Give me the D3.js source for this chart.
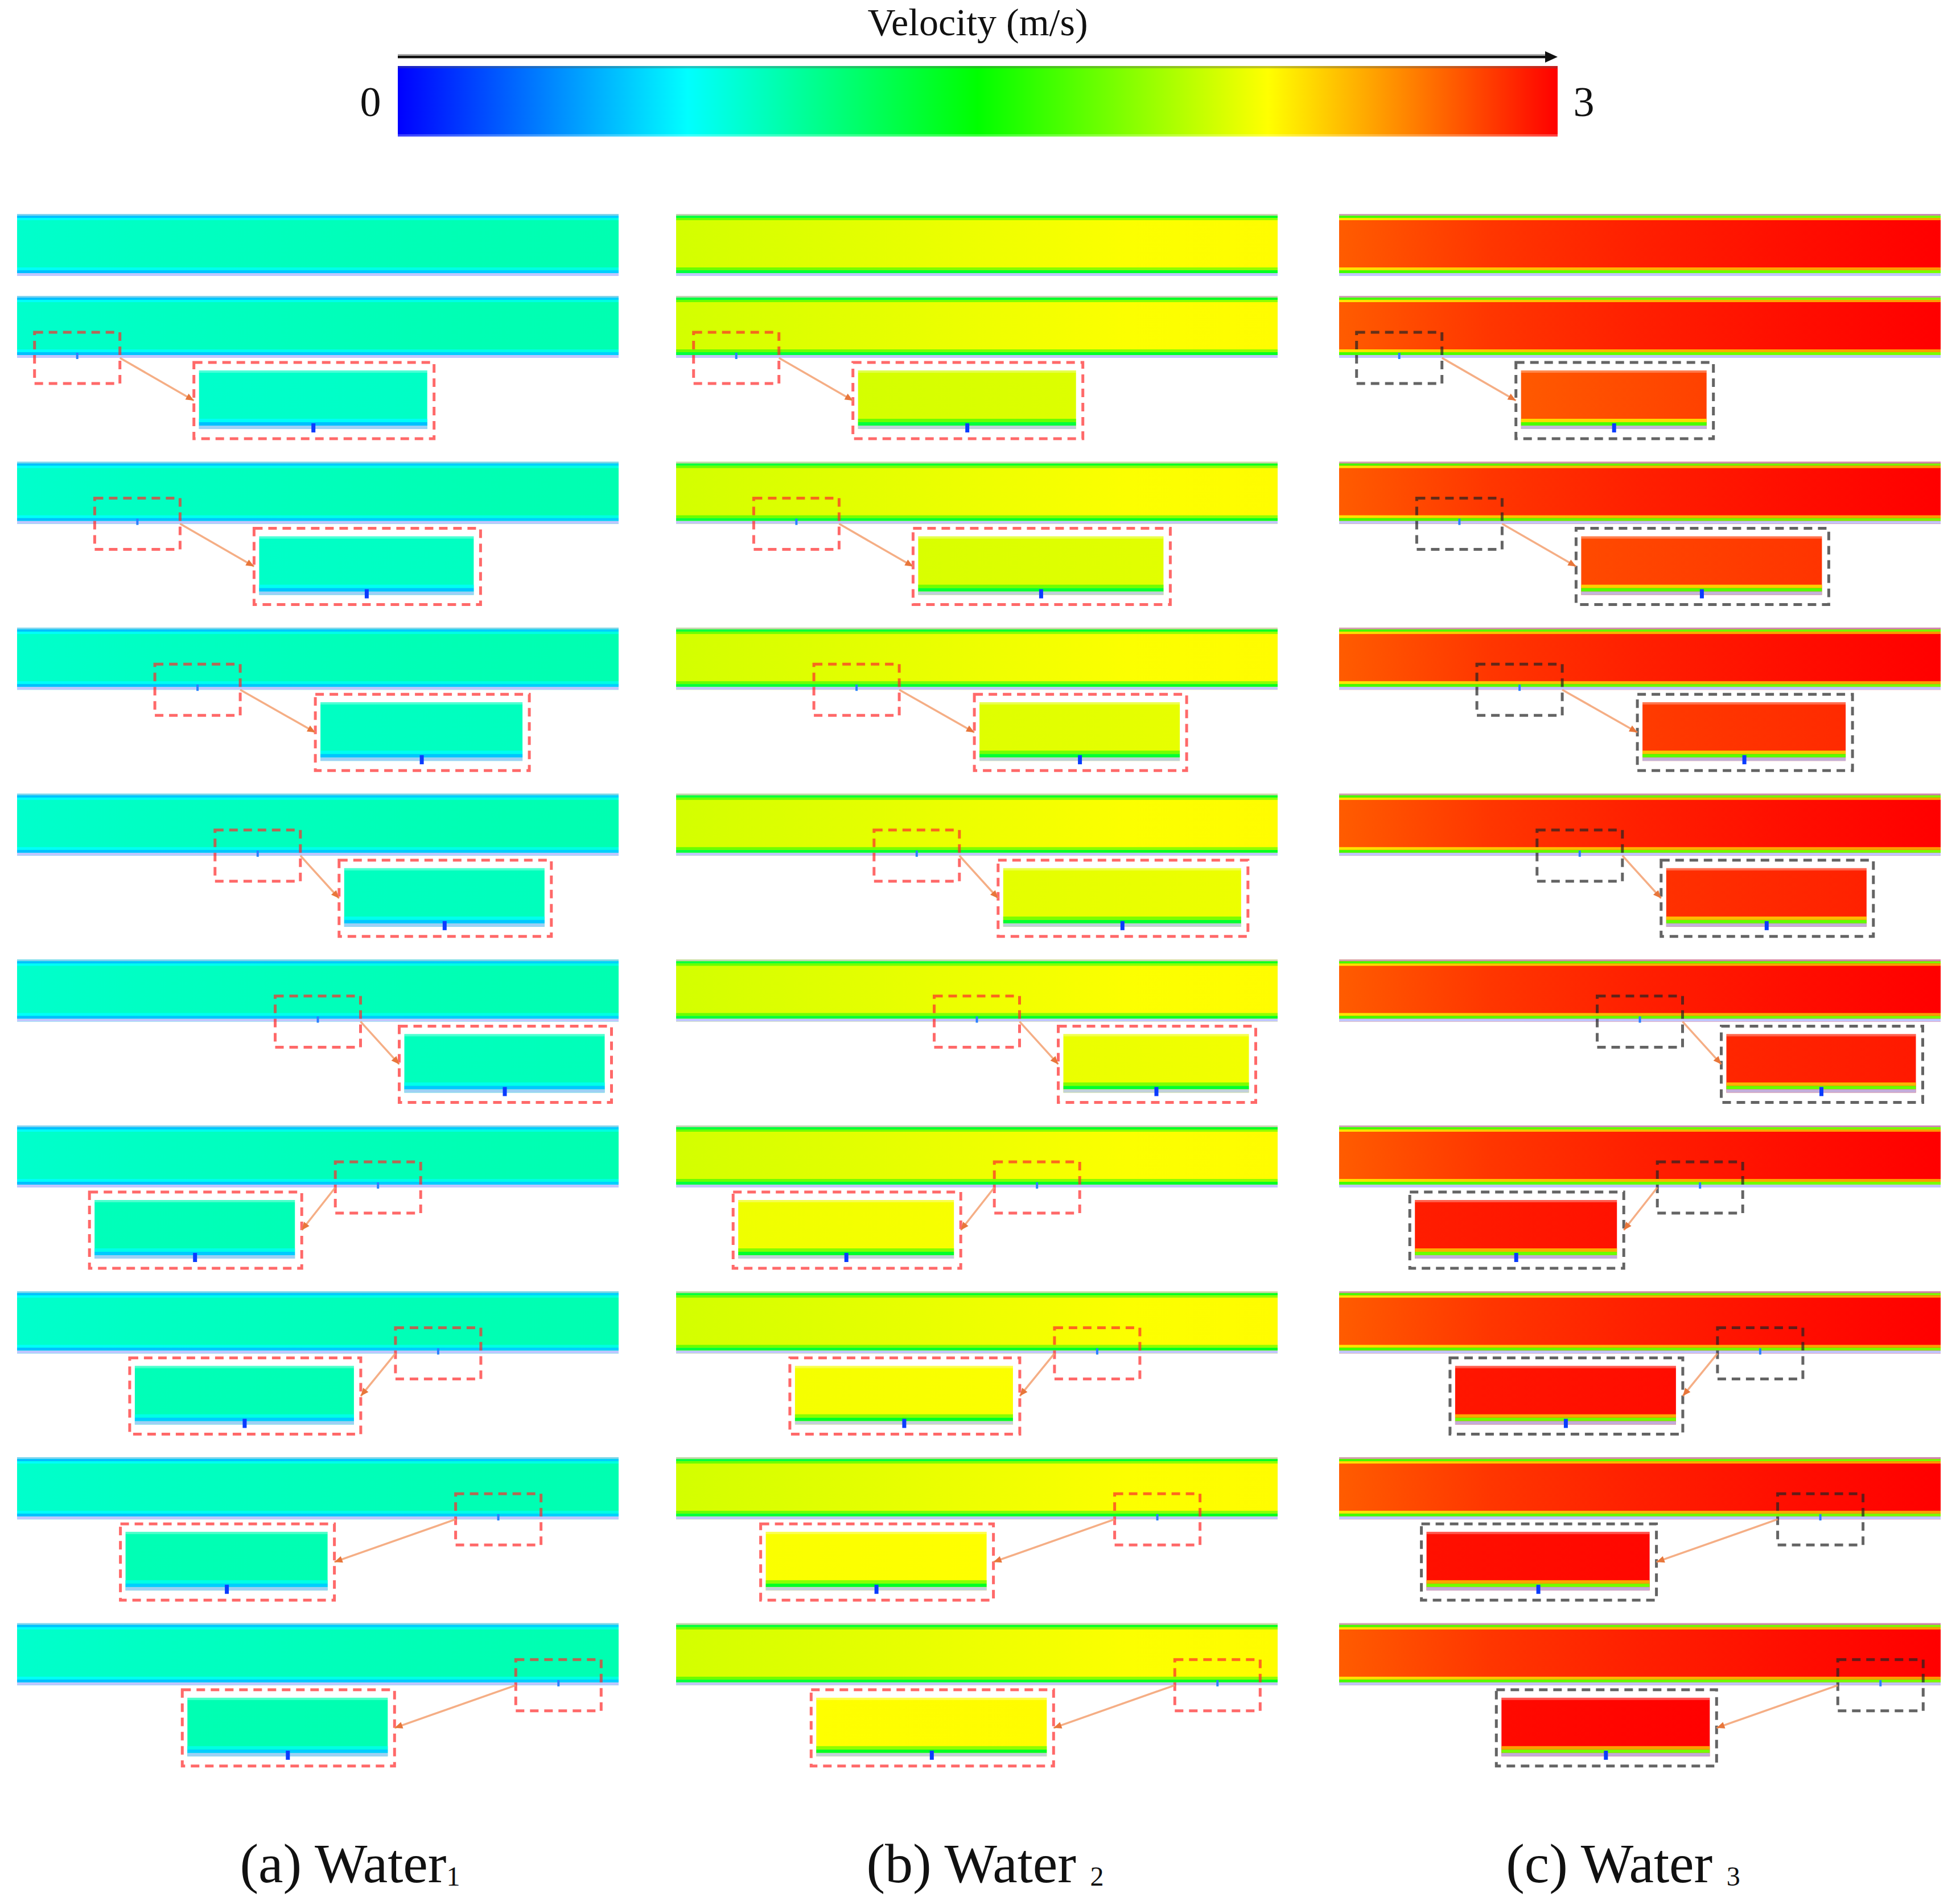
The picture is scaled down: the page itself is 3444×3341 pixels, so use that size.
<!DOCTYPE html>
<html><head><meta charset="utf-8">
<script src="https://cdn.jsdelivr.net/npm/d3@7"></script>
<style>html,body{margin:0;padding:0;background:#fff;}svg{display:block;}</style>
</head><body>
<script>
// ---------- data ----------
const colormapStops = [0, 0.75, 1.5, 2.25, 3];
const colormapColors = ["#0000ff", "#00ffff", "#00ff00", "#ffff00", "#ff0000"];
const colorbarTicks = [0, 3];
const colorbarTitle = "Velocity (m/s)";

const cases = ["Water1", "Water2", "Water3"];
const caseLabels = ["(a) Water", "(b) Water ", "(c) Water "];
const caseSubscripts = ["1", "2", "3"];
// velocity sampled along the pipe length (inlet -> outlet)
const samplePositions = [0, 0.25, 0.5, 0.75, 1];
const velocityWater1 = [0.90, 0.93, 0.95, 0.97, 0.98];
const velocityWater2 = [2.12, 2.16, 2.20, 2.24, 2.26];
const velocityWater3 = [2.73, 2.84, 2.91, 2.96, 3.00];
// relative leak position along the pipe (first row: no leak)
const leakPositions = [null, 0.1, 0.2, 0.3, 0.4, 0.5, 0.6, 0.7, 0.8, 0.9];

// ---------- layout ----------
const W = 3444, H = 3341;
const colLeft = [30, 1188, 2353], pipeW = 1057, pipeH = 109;
const rowTop = r => r === 0 ? 376 : 520 + (r - 1) * 291.6;
const insetGap = [0, 130, 130, 132, 68, 68, 59, 61, 213, 213];
const insetWidth = [
  [0, 422, 398, 376, 373, 373, 373, 406, 376, 373],
  [0, 404, 452, 373, 439, 347, 400, 404, 409, 426],
  [0, 347, 444, 378, 373, 354, 376, 409, 413, 387]
];
const boxColor = ["#ff2a2a", "#ff2a2a", "#222222"];

const velData = [velocityWater1, velocityWater2, velocityWater3];
const color = d3.scaleLinear().domain(colormapStops).range(colormapColors).clamp(true);

const svg = d3.select("body").append("svg").attr("width", W).attr("height", H)
  .style("font-family", "'Liberation Serif', 'Times New Roman', serif");
const defs = svg.append("defs");

function makeGrad(id, stops) {
  const g = defs.append("linearGradient").attr("id", id)
    .attr("x1", "0%").attr("x2", "100%").attr("y1", "0%").attr("y2", "0%");
  g.selectAll("stop").data(stops).join("stop")
    .attr("offset", d => (d[0] * 100) + "%").attr("stop-color", d => d[1]);
  return "url(#" + id + ")";
}

// ---------- colorbar ----------
const cbX = d3.scaleLinear().domain([0, 3]).range([699, 2737]);
const cbFill = makeGrad("cb", colormapStops.map((v, i) => [v / 3, colormapColors[i]]));
svg.append("rect").attr("x", cbX(0)).attr("y", 116).attr("width", cbX(3) - cbX(0)).attr("height", 124).attr("fill", cbFill);
svg.append("rect").attr("x", cbX(0)).attr("y", 116).attr("width", cbX(3) - cbX(0)).attr("height", 4).attr("fill", "#555").attr("opacity", 0.35);
svg.append("rect").attr("x", cbX(0)).attr("y", 236).attr("width", cbX(3) - cbX(0)).attr("height", 4).attr("fill", "#fff").attr("opacity", 0.25);
svg.append("line").attr("x1", cbX(0)).attr("x2", cbX(3) - 16).attr("y1", 99).attr("y2", 99)
  .attr("stroke", "#aaa").attr("stroke-width", 8);
svg.append("line").attr("x1", cbX(0)).attr("x2", cbX(3) - 16).attr("y1", 100).attr("y2", 100)
  .attr("stroke", "#111").attr("stroke-width", 4);
svg.append("path").attr("d", `M${cbX(3)},100 L${cbX(3) - 22},90 L${cbX(3) - 22},110 Z`).attr("fill", "#111");
svg.append("text").attr("x", (cbX(0) + cbX(3)) / 2).attr("y", 62).attr("text-anchor", "middle")
  .attr("font-size", 68).attr("fill", "#111").text(colorbarTitle);
svg.selectAll("text.tick").data(colorbarTicks).join("text").attr("class", "tick")
  .attr("x", d => d === 0 ? cbX(d) - 48 : cbX(d) + 46).attr("y", 204)
  .attr("text-anchor", "middle").attr("font-size", 74).attr("fill", "#111").text(d => d);

// ---------- pipes ----------
cases.forEach((name, c) => {
  const vel = d3.scaleLinear().domain(samplePositions).range(velData[c]).clamp(true);
  const x = d3.scaleLinear().domain([0, 1]).range([colLeft[c], colLeft[c] + pipeW]);
  const bodyFill = makeGrad("body" + c, samplePositions.map((p, i) => [p, color(velData[c][i])]));
  const wall1 = makeGrad("w1" + c, samplePositions.map((p, i) => [p, color(velData[c][i] * 0.62)]));
  const wall2 = makeGrad("w2" + c, samplePositions.map((p, i) => [p, color(velData[c][i] * 0.85)]));

  leakPositions.forEach((leak, r) => {
    const y0 = rowTop(r);
    const g = svg.append("g");
    const X0 = x(0), PW = x(1) - x(0);
    // pipe layers
    g.append("rect").attr("x", X0).attr("y", y0).attr("width", PW).attr("height", pipeH).attr("fill", bodyFill);
    const layers = [
      [0, 3, "#b8c0ff", 0.7], [3, 4, wall1, 1], [7, 4, wall2, 1],
      [pipeH - 15, 5, wall2, 1], [pipeH - 10, 5, wall1, 1], [pipeH - 5, 5, "#c0c6ff", 1]
    ];
    layers.forEach(l => g.append("rect").attr("x", X0).attr("y", y0 + l[0]).attr("width", PW)
      .attr("height", l[1]).attr("fill", l[2]).attr("opacity", l[3]));
    if (leak === null) return;

    const cx = x(leak);
    // leak hole marker on the pipe wall
    g.append("rect").attr("x", cx - 2).attr("y", y0 + pipeH - 9).attr("width", 4).attr("height", 11).attr("fill", "#2a80ff");
    // small zoom box
    const bx0 = cx - 75, bx1 = cx + 75, by0 = y0 + 64, by1 = y0 + pipeH + 45;
    g.append("rect").attr("x", bx0).attr("y", by0).attr("width", bx1 - bx0).attr("height", by1 - by0)
      .attr("fill", "none").attr("stroke", boxColor[c]).attr("stroke-width", 5)
      .attr("stroke-dasharray", "15,10").attr("stroke-opacity", 0.7);

    // inset
    const w = insetWidth[c][r], hI = 134, top = y0 + pipeH + 8;
    const right = leak <= 0.5;
    const left = right ? bx1 + insetGap[r] : bx0 - insetGap[r] - w;
    const fx0 = left + 9, fx1 = left + w - 12, fy0 = top + 14, fy1 = top + hI - 17;
    const localFill = makeGrad("loc" + c + "_" + r, [
      [0, color(vel(leak - 0.08))], [1, color(vel(leak + 0.08))]]);
    const vl = vel(leak);
    g.append("rect").attr("x", fx0).attr("y", fy0).attr("width", fx1 - fx0).attr("height", fy1 - fy0).attr("fill", localFill);
    g.append("rect").attr("x", fx0).attr("y", fy0).attr("width", fx1 - fx0).attr("height", 4).attr("fill", "#fff").attr("opacity", 0.3);
    g.append("rect").attr("x", fx0).attr("y", fy1 - 18).attr("width", fx1 - fx0).attr("height", 6).attr("fill", color(vl * 0.85));
    g.append("rect").attr("x", fx0).attr("y", fy1 - 12).attr("width", fx1 - fx0).attr("height", 6).attr("fill", color(vl * 0.62));
    g.append("rect").attr("x", fx0).attr("y", fy1 - 6).attr("width", fx1 - fx0).attr("height", 6).attr("fill", "#b8c8ff").attr("opacity", 0.85);
    const mx = (fx0 + fx1) / 2;
    g.append("rect").attr("x", mx - 3).attr("y", fy1 - 10).attr("width", 7).attr("height", 16).attr("fill", "#0a3cff");
    g.append("rect").attr("x", left).attr("y", top).attr("width", w).attr("height", hI)
      .attr("fill", "none").attr("stroke", boxColor[c]).attr("stroke-width", 5)
      .attr("stroke-dasharray", "15,10").attr("stroke-opacity", 0.7);

    // connector arrow
    const sx = right ? bx1 : bx0, sy = y0 + pipeH;
    const ex = right ? left : left + w, ey = top + hI / 2;
    g.append("line").attr("x1", sx).attr("y1", sy).attr("x2", ex).attr("y2", ey)
      .attr("stroke", "#f4a070").attr("stroke-width", 3.5).attr("opacity", 0.85);
    const ang = Math.atan2(ey - sy, ex - sx);
    const ah = 14, aw = 6;
    const p1 = [ex - ah * Math.cos(ang) + aw * Math.sin(ang), ey - ah * Math.sin(ang) - aw * Math.cos(ang)];
    const p2 = [ex - ah * Math.cos(ang) - aw * Math.sin(ang), ey - ah * Math.sin(ang) + aw * Math.cos(ang)];
    g.append("path").attr("d", `M${ex},${ey} L${p1[0]},${p1[1]} L${p2[0]},${p2[1]} Z`).attr("fill", "#e8763a");
  });

  // case label
  const t = svg.append("text").attr("x", [615, 1731, 2852][c]).attr("y", 3308)
    .attr("text-anchor", "middle").attr("font-size", 98).attr("fill", "#111");
  t.append("tspan").text(caseLabels[c]);
  t.append("tspan").attr("font-size", 48).attr("dy", 6).text(caseSubscripts[c]);
});
</script>
</body></html>
